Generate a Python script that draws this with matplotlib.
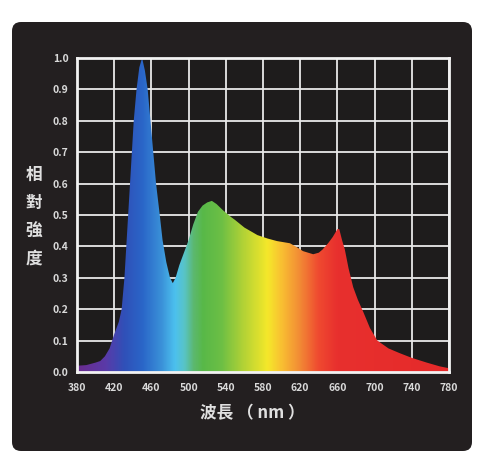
import numpy as np
import matplotlib
matplotlib.use("Agg")
import matplotlib.pyplot as plt
from matplotlib.colors import LinearSegmentedColormap
from matplotlib.patches import FancyBboxPatch

plt.rcParams['font.family'] = ['Noto Sans CJK TC', 'DejaVu Sans']

# ===================== 데이터 =====================
wavelength = [380, 390, 400, 405, 410, 415, 420, 425, 428, 431, 433, 435, 437, 439,
              441, 444, 447, 450, 453, 456, 459, 462, 465, 469, 472, 476, 480, 483,
              486, 490, 495, 500, 505, 510, 515, 520, 525, 530, 537, 545, 550, 560,
              574, 585, 595, 609, 615, 623, 634, 640, 644, 650, 655, 660, 662, 665,
              668, 672, 677, 682, 688, 695, 703, 715, 727, 740, 756, 770, 780]
intensity = [0.02, 0.022, 0.03, 0.035, 0.05, 0.075, 0.12, 0.16, 0.2, 0.3, 0.4, 0.5, 0.6, 0.7,
             0.8, 0.9, 0.97, 1.0, 0.96, 0.9, 0.8, 0.7, 0.6, 0.5, 0.42, 0.35, 0.30, 0.283,
             0.30, 0.34, 0.38, 0.42, 0.47, 0.51, 0.53, 0.54, 0.545, 0.535, 0.515, 0.495, 0.484, 0.46,
             0.436, 0.425, 0.417, 0.41, 0.40, 0.385, 0.375, 0.38, 0.39, 0.41, 0.43, 0.455, 0.455, 0.42,
             0.39, 0.33, 0.27, 0.23, 0.19, 0.14, 0.10, 0.075, 0.06, 0.045, 0.03, 0.018, 0.012]

x_ticks = [380, 420, 460, 500, 540, 580, 620, 660, 700, 740, 780]
y_ticks = [0.0, 0.1, 0.2, 0.3, 0.4, 0.5, 0.6, 0.7, 0.8, 0.9, 1.0]
y_label_chars = ["相", "對", "強", "度"]
x_label = "波長 （ nm ）"

# 파장별 색상 (그라데이션)
spectrum_stops = [
    (380, "#6a2c8e"), (410, "#5a3aa8"), (430, "#3050b8"), (450, "#2a66c8"),
    (470, "#3a90d8"), (485, "#4cc0ee"), (495, "#58c4c8"), (505, "#5cb870"),
    (515, "#58b848"), (535, "#6cbf45"), (560, "#b5d335"), (585, "#f5e82a"),
    (600, "#f9c032"), (620, "#f28a35"), (640, "#ef4a30"), (660, "#e8302e"),
    (780, "#e52a2a"),
]

# ===================== 그리기 =====================
fig = plt.figure(figsize=(4.92, 4.68), dpi=100)
fig.patch.set_facecolor("white")

panel = FancyBboxPatch((0.12, 0.17), 4.6, 4.29, boxstyle="round,pad=0,rounding_size=0.09",
                       transform=fig.dpi_scale_trans, facecolor="#231f20", edgecolor="none",
                       zorder=-1)
fig.patches.append(panel)

ax = fig.add_axes([77 / 492, 1 - 372 / 468, 372 / 492, 314 / 468])
ax.set_facecolor("#1e1c1c")
ax.set_xlim(380, 780)
ax.set_ylim(0, 1)

lo, hi = spectrum_stops[0][0], spectrum_stops[-1][0]
cmap = LinearSegmentedColormap.from_list(
    "spec", [((w - lo) / (hi - lo), c) for w, c in spectrum_stops])
grad = np.linspace(0, 1, 800).reshape(1, -1)
img = ax.imshow(grad, cmap=cmap, extent=[380, 780, 0, 1], aspect="auto",
                origin="lower", zorder=3, interpolation="bilinear")
poly = ax.fill_between(wavelength, intensity, 0, color="none", zorder=2)
img.set_clip_path(poly.get_paths()[0], transform=ax.transData)

ax.set_xticks(x_ticks)
ax.set_yticks(y_ticks)
ax.set_yticklabels([f"{v:.1f}" for v in y_ticks])
ax.grid(True, color="#e8e8e8", linewidth=1.3)
ax.set_axisbelow(True)
ax.tick_params(length=0, colors="#d9d9d9", labelsize=7.5)
ax.tick_params(axis="x", pad=8)
ax.tick_params(axis="y", pad=6)
for lab in ax.get_xticklabels() + ax.get_yticklabels():
    lab.set_fontweight("bold")
for sp in ax.spines.values():
    sp.set_color("#f2f2f2")
    sp.set_linewidth(2)
    sp.set_zorder(4)

for i, ch in enumerate(y_label_chars):
    fig.text(34 / 492, 1 - (175 + 28 * i) / 468, ch, color="#e0e0e0", fontsize=12,
             fontweight="bold", ha="center", va="center")
fig.text(252 / 492, 1 - 413 / 468, x_label, color="#e0e0e0", fontsize=12,
         fontweight="bold", ha="center", va="center")

fig.savefig("out.png", dpi=100, facecolor=fig.get_facecolor())
